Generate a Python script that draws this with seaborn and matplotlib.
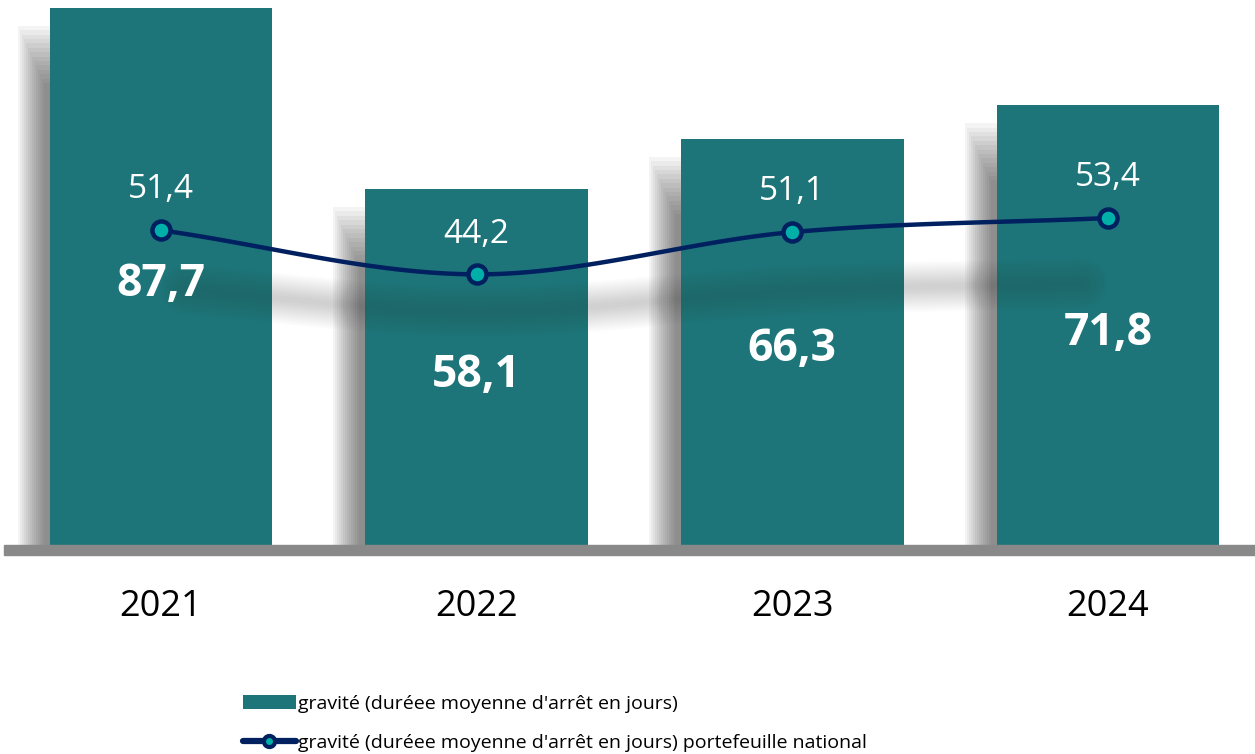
import numpy as np
import pandas as pd
import matplotlib
matplotlib.use("Agg")
import matplotlib.pyplot as plt
from matplotlib.patches import Rectangle, Patch
from matplotlib.lines import Line2D
import seaborn as sns

# ---- data ----
years = ["2021", "2022", "2023", "2024"]
gravite = [87.7, 58.1, 66.3, 71.8]
gravite_national = [51.4, 44.2, 51.1, 53.4]
bar_label = "gravité (duréee moyenne d'arrêt en jours)"
line_label = "gravité (duréee moyenne d'arrêt en jours) portefeuille national"

BAR_COLOR = "#1D7579"
LINE_COLOR = "#002060"
MARKER_FILL = "#00B0A8"
FONT = "Open Sans"

sns.set_theme(style="white")
plt.rcParams["font.family"] = [FONT, "DejaVu Sans"]

W, H = 1255, 754
fig = plt.figure(figsize=(W / 100, H / 100), dpi=100)
ax = fig.add_axes([4 / W, (H - 545) / H, 1251 / W, 545 / H])

x0, step = 161, 315.67
ax.set_xlim((4 - x0) / step, (1255 - x0) / step)
ppu = 537 / 87.7
ax.set_ylim(0, 545 / ppu)
px_x = 1 / step
px_y = 1 / ppu

pos = np.arange(len(years))
bw = 0.706

# ---- bar shadows (soft gray blur to the left) ----
vals = np.array(gravite)
for i in range(14):
    grow = i * 2.0
    left = pos - bw / 2 - (6 + grow) * px_x
    right = pos - bw / 2 + 30 * px_x
    tops = vals - (75 - grow * 2.2) * px_y
    ax.bar(left, tops, width=right - left, align="edge", color="#303030",
           alpha=0.05, linewidth=0, zorder=1)

# ---- bars ----
df = pd.DataFrame({"year": years, "val": gravite})
sns.barplot(data=df, x="year", y="val", color=BAR_COLOR, saturation=1,
            width=bw, ax=ax, zorder=2, linewidth=0)
ax.set_xlim((4 - x0) / step, (1255 - x0) / step)
ax.set_ylim(0, 545 / ppu)


# ---- smooth curve (Catmull-Rom through the points) ----
def catmull(xp, yp, n=40):
    xp = np.asarray(xp, float)
    yp = np.asarray(yp, float)
    P = np.column_stack([xp, yp])
    P = np.vstack([P[0] - (P[1] - P[0]), P, P[-1] + (P[-1] - P[-2])])
    out = []
    for k in range(1, len(P) - 2):
        p0, p1, p2, p3 = P[k - 1], P[k], P[k + 1], P[k + 2]
        t = np.linspace(0, 1, n)[:, None]
        seg = 0.5 * ((2 * p1) + (-p0 + p2) * t + (2 * p0 - 5 * p1 + 4 * p2 - p3) * t ** 2
                     + (-p0 + 3 * p1 - 3 * p2 + p3) * t ** 3)
        out.append(seg)
    out = np.vstack(out)
    return out[:, 0], out[:, 1]


# ---- line shadow (blurred band) ----
gn = np.array(gravite_national)
shadow_y = 41.0 + 0.5 * (gn - gn.mean())
sx, sy = catmull(pos + np.array([0.08, 0.0, 0.0, -0.08]), shadow_y)
for lw in np.linspace(36, 4, 12):
    ax.plot(sx, sy, color="#404040", lw=lw, alpha=0.02, solid_capstyle="round",
            zorder=3)

cx, cy = catmull(pos, gravite_national)
curve = pd.DataFrame({"x": cx, "y": cy})
sns.lineplot(data=curve, x="x", y="y", color=LINE_COLOR, lw=3.2, sort=False,
             ax=ax, zorder=4)
ax.plot(pos, gravite_national, linestyle="none", marker="o", markersize=13,
        markerfacecolor=MARKER_FILL, markeredgecolor=LINE_COLOR,
        markeredgewidth=3.2, zorder=5)

# ---- labels ----
for p, v in zip(pos, gravite):
    ax.text(p, v / 2 - 1.3, f"{v:.1f}".replace(".", ","), ha="center",
            va="center", color="white", fontsize=32, fontweight="bold", zorder=6)
for p, v in zip(pos, gravite_national):
    ax.annotate(f"{v:.1f}".replace(".", ","), (p, v), xytext=(0, 29),
                textcoords="offset points", ha="center", va="center",
                color="white", fontsize=24, zorder=6)

# ---- axes styling ----
ax.set_xticks(pos)
ax.set_xticklabels(years, fontsize=26, color="black")
ax.tick_params(axis="x", length=0, pad=32)
ax.set_yticks([])
ax.set_xlabel("")
ax.set_ylabel("")
for s in ax.spines.values():
    s.set_visible(False)
ax.patch.set_alpha(0)

fig.patches.append(Rectangle((4 / W, (H - 555) / H), 1251 / W, 10 / H,
                             transform=fig.transFigure, color="#898989",
                             zorder=10))

# ---- legend ----
handles = [
    Patch(facecolor=BAR_COLOR, edgecolor="none"),
    Line2D([], [], color=LINE_COLOR, lw=4.5, marker="o", markersize=8,
           markerfacecolor=MARKER_FILL, markeredgecolor=LINE_COLOR,
           markeredgewidth=3),
]
fig.legend(handles, [bar_label, line_label], loc="upper left",
           bbox_to_anchor=(243 / W, 1 - 695 / H), frameon=False, fontsize=14,
           handlelength=2.7, handletextpad=0.15, labelspacing=1.08,
           borderaxespad=0, borderpad=0, labelcolor="black")

fig.savefig("out.png", dpi=100)
